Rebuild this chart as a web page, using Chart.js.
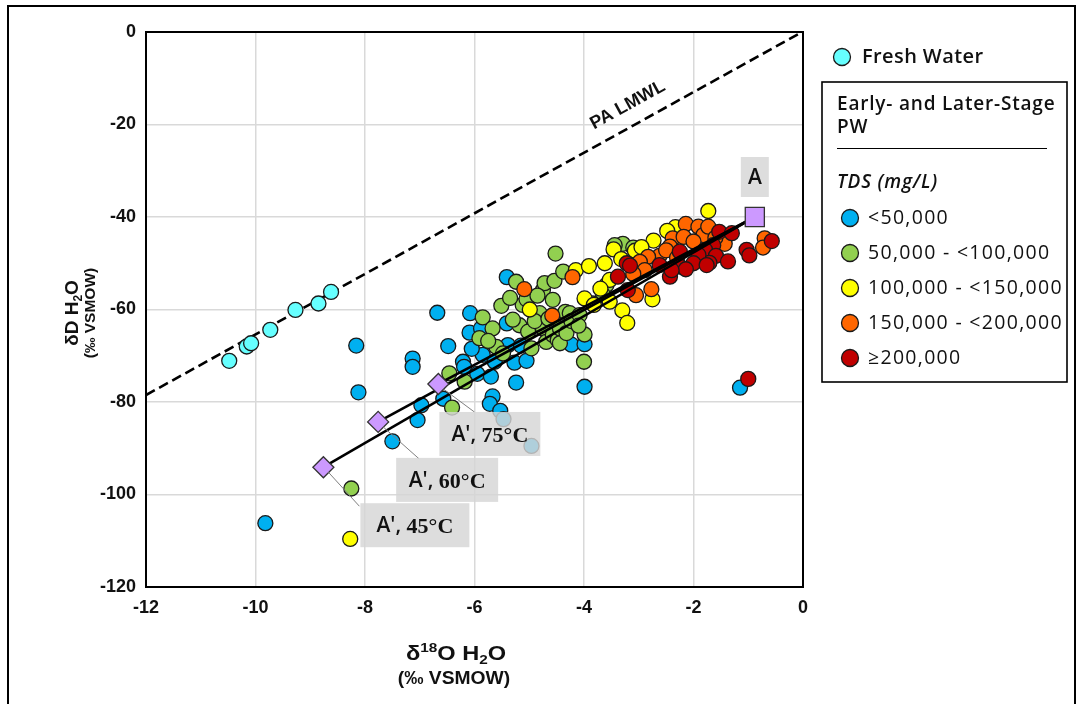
<!DOCTYPE html>
<html>
<head>
<meta charset="utf-8">
<script src="https://cdn.jsdelivr.net/npm/chart.js@4.4.0/dist/chart.umd.min.js"></script>
<style>
  html, body { margin: 0; padding: 0; background: #fff; }
  #wrap { position: relative; width: 1078px; height: 704px; }
</style>
</head>
<body>
<div id="wrap"><canvas id="chart" width="1078" height="704"></canvas></div>
<script>
/* δ18O vs δD of produced water, coloured by TDS class, with the PA LMWL and
   mixing lines from end-member A to A' at three temperatures. */

const X_TICKS = [-12, -10, -8, -6, -4, -2, 0];
const Y_TICKS = [-120, -100, -80, -60, -40, -20, 0];

// [δ18O, δD] pairs
const freshWater = [[-10.48, -71.1], [-10.16, -68.0], [-10.08, -67.3], [-9.73, -64.4], [-9.27, -60.1], [-8.85, -58.7], [-8.62, -56.2]];

const tdsUnder50k = [
  [-9.82, -106.2], [-8.16, -67.8], [-8.12, -77.9], [-7.50, -88.5], [-7.13, -70.6], [-7.13, -72.4], [-6.97, -80.7],
  [-7.04, -83.9], [-6.68, -60.7], [-6.57, -79.3], [-6.48, -67.9], [-6.08, -60.8], [-6.09, -65.0], [-6.21, -71.3],
  [-6.19, -72.4], [-5.95, -73.9], [-5.88, -64.1], [-5.85, -69.8], [-5.67, -78.8], [-5.72, -80.4], [-5.53, -81.9],
  [-5.47, -83.7], [-4.96, -89.5], [-5.24, -75.8], [-5.27, -71.5], [-5.05, -71.1], [-5.41, -63.0], [-5.41, -53.0],
  [-5.39, -67.7], [-5.15, -67.8], [-5.63, -71.3], [-4.23, -67.6], [-3.99, -67.5], [-3.99, -76.7], [-1.15, -76.9],
  [-6.05, -68.5], [-5.70, -74.5]
];

const tds50to100k = [
  [-8.25, -98.7], [-6.41, -81.2], [-6.46, -73.8], [-6.18, -75.6], [-5.85, -61.7], [-5.67, -64.1], [-5.91, -66.2],
  [-5.60, -68.1], [-5.48, -69.5], [-5.51, -59.2], [-5.24, -54.0], [-5.18, -63.4], [-5.12, -59.0], [-5.05, -57.8],
  [-5.02, -64.8], [-4.96, -68.4], [-4.81, -60.8], [-4.75, -55.8], [-4.72, -54.3], [-4.75, -64.1], [-4.69, -67.0],
  [-4.57, -57.9], [-4.57, -65.5], [-4.54, -53.8], [-4.52, -47.9], [-4.48, -66.6], [-4.44, -64.1], [-4.44, -67.3],
  [-4.38, -51.8], [-4.34, -60.5], [-4.32, -65.1], [-4.26, -60.8], [-4.23, -62.5], [-4.08, -61.2], [-3.99, -65.4],
  [-4.00, -71.3], [-3.29, -45.8], [-3.10, -46.6], [-3.59, -54.7], [-3.65, -56.9], [-3.44, -46.1], [-3.84, -58.7],
  [-5.30, -62.2], [-5.75, -66.8], [-4.90, -62.5], [-4.65, -62.0], [-4.10, -63.5], [-4.85, -57.0], [-5.35, -57.5]
];

const tds100to150k = [
  [-8.27, -109.6], [-4.99, -60.0], [-4.15, -51.5], [-3.91, -50.6], [-3.62, -50.0], [-3.46, -47.0], [-3.53, -53.6],
  [-3.99, -57.6], [-3.82, -59.0], [-3.53, -58.3], [-3.30, -60.2], [-3.21, -62.9], [-1.73, -38.7], [-2.33, -42.2],
  [-2.48, -43.0], [-2.75, -57.8], [-2.73, -45.1], [-3.07, -47.3], [-3.32, -49.1], [-2.95, -46.5], [-3.70, -55.5]
];

const tds150to200k = [
  [-5.09, -55.6], [-4.21, -53.0], [-4.58, -61.3], [-2.14, -41.5], [-1.91, -42.1], [-1.82, -43.9], [-1.73, -42.1],
  [-2.38, -44.6], [-2.18, -44.3], [-1.43, -45.8], [-2.62, -48.4], [-2.83, -48.6], [-2.98, -49.7], [-2.89, -51.5],
  [-3.10, -52.3], [-2.77, -55.6], [-3.05, -56.9], [-0.70, -44.6], [-0.73, -46.6], [-2.43, -46.4], [-2.50, -47.2],
  [-2.00, -45.3], [-1.60, -44.5], [-2.30, -48.8]
];

const tdsOver200k = [
  [-3.38, -52.9], [-3.22, -50.0], [-3.16, -50.5], [-3.20, -55.8], [-1.53, -43.2], [-1.30, -43.5], [-1.64, -46.1],
  [-1.79, -47.1], [-1.59, -48.4], [-1.37, -49.6], [-1.71, -49.9], [-1.91, -48.2], [-2.00, -50.0], [-2.25, -47.5],
  [-2.25, -50.7], [-2.14, -51.3], [-2.43, -52.9], [-2.62, -50.4], [-2.40, -51.5], [-0.57, -45.2], [-1.03, -47.1],
  [-0.98, -48.3], [-1.00, -75.0], [-1.76, -50.4]
];

const endMemberA = [-0.88, -40.0];
const endMemberAprime = [[-6.66, -76.1], [-7.76, -84.3], [-8.76, -94.1]];
const aprimeTemps = ["75°C", "60°C", "45°C"];

const lmwlX = [-12, 0];
const lmwlY = [-78.5, 0.1];

const tdsClasses = ["<50,000", "50,000 - <100,000", "100,000 - <150,000", "150,000 - <200,000", "≥200,000"];

const C = {
  fresh: "#66ffff", lt50: "#00b0f0", lt100: "#92d050", lt150: "#ffff00", lt200: "#ff6600", ge200: "#c00000",
  marker: "#cc99ff", ink: "#111111", grid: "#d9d9d9", edge: "#1a1a1a"
};
const TDS_COLORS = [C.lt50, C.lt100, C.lt150, C.lt200, C.ge200];

const toPts = arr => arr.map(([x, y]) => ({ x, y }));

function pointSet(label, arr, color, order) {
  return {
    label, data: toPts(arr), backgroundColor: color, borderColor: C.edge, borderWidth: 1.3,
    pointRadius: 7.5, pointHoverRadius: 7.5, order
  };
}

// label boxes next to the A' markers (pixel offsets from the marker)
const aprimeBoxes = [
  { dx: 1, dy: 28, w: 101, h: 44, lx: 36, ly: 28 },
  { dx: 18, dy: 36, w: 102, h: 44, lx: 41, ly: 37 },
  { dx: 37, dy: 36, w: 109, h: 44, lx: 36, ly: 39 }
];

function boxLabel(ctx, x, y, w, h, sans, serif) {
  ctx.fillStyle = "rgba(214,214,214,0.82)";
  ctx.fillRect(x, y, w, h);
  ctx.fillStyle = C.ink;
  ctx.textBaseline = "middle";
  ctx.textAlign = "left";
  ctx.font = '600 21px "Open Sans"';
  const w1 = ctx.measureText(sans).width;
  ctx.font = 'bold 22px "Liberation Serif"';
  const w2 = serif ? ctx.measureText(serif).width : 0;
  let cx = x + w / 2 - (w1 + w2) / 2;
  ctx.font = '600 21px "Open Sans"';
  ctx.fillText(sans, cx, y + h / 2 + 1);
  if (serif) {
    ctx.font = 'bold 22px "Liberation Serif"';
    ctx.fillText(serif, cx + w1, y + h / 2 + 2);
  }
}

// text with sub/superscripts: parts = [text, size, shift]; stretch widens it horizontally
function drawRich(ctx, parts, x, y, stretch = 1) {
  let w = 0;
  parts.forEach(p => { ctx.font = `bold ${p[1]}px "Liberation Sans"`; w += ctx.measureText(p[0]).width; });
  ctx.save();
  ctx.translate(x, y);
  ctx.scale(stretch, 1);
  let cx = -w / 2;
  ctx.textAlign = "left";
  ctx.textBaseline = "alphabetic";
  parts.forEach(p => {
    ctx.font = `bold ${p[1]}px "Liberation Sans"`;
    ctx.fillText(p[0], cx, p[2]);
    cx += ctx.measureText(p[0]).width;
  });
  ctx.restore();
}

function dot(ctx, x, y, r, fill) {
  ctx.beginPath();
  ctx.arc(x, y, r, 0, Math.PI * 2);
  ctx.fillStyle = fill;
  ctx.fill();
  ctx.lineWidth = 1.3;
  ctx.strokeStyle = C.edge;
  ctx.stroke();
}

const figurePlugin = {
  id: "figure",
  beforeDraw(chart) {
    const ctx = chart.ctx;
    ctx.save();
    ctx.fillStyle = "#fff";
    ctx.fillRect(0, 0, chart.width, chart.height);
    ctx.strokeStyle = "#000";
    ctx.lineWidth = 2;
    ctx.strokeRect(8, 6, 1067, 720);
    ctx.restore();
  },
  beforeDatasetsDraw(chart) {
    const { ctx, chartArea: a } = chart;
    ctx.save();
    ctx.strokeStyle = "#000";
    ctx.lineWidth = 2;
    ctx.strokeRect(a.left, a.top, a.right - a.left, a.bottom - a.top);
    ctx.restore();
  },
  afterDatasetsDraw(chart) {
    const { ctx, scales: { x: sx, y: sy } } = chart;
    ctx.save();
    // LMWL label along the dashed line
    const lx = -3.22;
    const ly = lmwlY[0] + (lmwlY[1] - lmwlY[0]) * (lx - lmwlX[0]) / (lmwlX[1] - lmwlX[0]);
    const angle = Math.atan2(sy.getPixelForValue(lmwlY[1]) - sy.getPixelForValue(lmwlY[0]),
                             sx.getPixelForValue(lmwlX[1]) - sx.getPixelForValue(lmwlX[0]));
    ctx.translate(sx.getPixelForValue(lx) + 1, sy.getPixelForValue(ly) - 24);
    ctx.rotate(angle);
    ctx.fillStyle = C.ink;
    ctx.font = 'bold 18px "Liberation Sans"';
    ctx.textAlign = "center";
    ctx.textBaseline = "middle";
    ctx.fillText("PA LMWL", 0, 0);
    ctx.restore();

    ctx.save();
    endMemberAprime.forEach(([x, y], i) => {
      const px = sx.getPixelForValue(x), py = sy.getPixelForValue(y), b = aprimeBoxes[i];
      ctx.strokeStyle = "#7f7f7f";
      ctx.lineWidth = 1;
      ctx.beginPath();
      ctx.moveTo(px + 5, py + 5);
      ctx.lineTo(px + b.lx, py + b.ly);
      ctx.stroke();
      boxLabel(ctx, px + b.dx, py + b.dy, b.w, b.h, "A', ", aprimeTemps[i]);
    });
    const ax = sx.getPixelForValue(endMemberA[0]), ay = sy.getPixelForValue(endMemberA[1]);
    boxLabel(ctx, ax - 14, ay - 60, 28, 40, "A", "");
    ctx.restore();
  },
  afterDraw(chart) {
    const ctx = chart.ctx;
    ctx.save();
    ctx.fillStyle = C.ink;
    // x axis title
    drawRich(ctx, [["δ", 20, 0], ["18", 13, -8], ["O H", 20, 0], ["2", 13, 4], ["O", 20, 0]], 456, 660, 1.18);
    drawRich(ctx, [["(‰", 18, 0], [" VSMOW)", 18, 0]], 454, 684, 1.07);
    // y axis title
    ctx.translate(78, 313);
    ctx.rotate(-Math.PI / 2);
    drawRich(ctx, [["δD H", 19, 0], ["2", 12, 4], ["O", 19, 0]], 0, 0);
    drawRich(ctx, [["(‰", 15.5, 0], [" VSMOW)", 15.5, 0]], 0, 16.5);
    ctx.restore();

    // legend
    ctx.save();
    ctx.fillStyle = C.ink;
    ctx.textAlign = "left";
    ctx.textBaseline = "middle";
    dot(ctx, 842, 57, 8.5, C.fresh);
    ctx.fillStyle = C.ink;
    ctx.font = '600 20px "Open Sans"';
    ctx.letterSpacing = "0.4px";
    ctx.fillText("Fresh Water", 862, 57);

    ctx.strokeStyle = "#000";
    ctx.lineWidth = 1.6;
    ctx.strokeRect(822, 82, 245, 300);
    ctx.font = '600 19px "Open Sans"';
    ctx.letterSpacing = "0.8px";
    ctx.fillText("Early- and Later-Stage", 837, 105);
    ctx.fillText("PW", 837, 128);
    ctx.lineWidth = 1;
    ctx.beginPath();
    ctx.moveTo(837, 148.5);
    ctx.lineTo(1047, 148.5);
    ctx.stroke();
    ctx.font = 'italic 600 19px "Open Sans"';
    ctx.fillText("TDS (mg/L)", 837, 183);

    tdsClasses.forEach((t, i) => {
      const y = 218 + i * 35;
      dot(ctx, 850, y, 8.5, TDS_COLORS[i]);
      ctx.fillStyle = C.ink;
      ctx.font = '500 19.5px "Open Sans"';
      ctx.letterSpacing = "1.3px";
      ctx.fillText(t, 868, y);
    });
    ctx.restore();
  }
};

const datasets = [
  {
    label: "A", data: toPts([endMemberA]), pointStyle: "rect", pointRadius: 13.5, pointHoverRadius: 13.5,
    backgroundColor: C.marker, borderColor: "#333", borderWidth: 1.3, order: 0
  },
  {
    label: "A'", data: toPts(endMemberAprime), pointStyle: "rectRot", pointRadius: 10.5, pointHoverRadius: 10.5,
    backgroundColor: C.marker, borderColor: "#333", borderWidth: 1.3, order: 0
  },
  ...endMemberAprime.map((p, i) => ({
    label: "mix " + aprimeTemps[i], data: toPts([p, endMemberA]), showLine: true,
    borderColor: "#000", borderWidth: 2.6, pointRadius: 0, order: 1
  })),
  pointSet("≥200,000", tdsOver200k, C.ge200, 2),
  pointSet("150,000 - <200,000", tds150to200k, C.lt200, 3),
  pointSet("100,000 - <150,000", tds100to150k, C.lt150, 4),
  pointSet("50,000 - <100,000", tds50to100k, C.lt100, 5),
  pointSet("<50,000", tdsUnder50k, C.lt50, 6),
  pointSet("Fresh Water", freshWater, C.fresh, 7),
  {
    label: "PA LMWL", data: lmwlX.map((x, i) => ({ x, y: lmwlY[i] })), showLine: true,
    borderColor: "#000", borderWidth: 2.6, borderDash: [10, 5], pointRadius: 0, order: 8
  }
];

const tickFont = { family: '"Liberation Sans", Arial, sans-serif', weight: "bold", size: 18 };

new Chart(document.getElementById("chart"), {
  type: "scatter",
  data: { datasets },
  options: {
    responsive: false,
    animation: false,
    devicePixelRatio: 1,
    layout: { padding: { left: 0, right: 275, top: 32, bottom: 0 } },
    plugins: { legend: { display: false }, tooltip: { enabled: false } },
    scales: {
      x: {
        type: "linear", min: -12, max: 0,
        afterBuildTicks: s => { s.ticks = X_TICKS.map(v => ({ value: v })); },
        afterFit: s => { s.height = 117; },
        grid: { color: C.grid, lineWidth: 1.5, drawTicks: false, tickLength: 0 },
        border: { display: false },
        ticks: { font: tickFont, color: C.ink, padding: 10 }
      },
      y: {
        type: "linear", min: -120, max: 0,
        afterBuildTicks: s => { s.ticks = Y_TICKS.map(v => ({ value: v })); },
        afterFit: s => { s.width = 146; },
        grid: { color: C.grid, lineWidth: 1.5, drawTicks: false, tickLength: 0 },
        border: { display: false },
        ticks: { font: tickFont, color: C.ink, padding: 10 }
      }
    }
  },
  plugins: [figurePlugin]
});
</script>
</body>
</html>
